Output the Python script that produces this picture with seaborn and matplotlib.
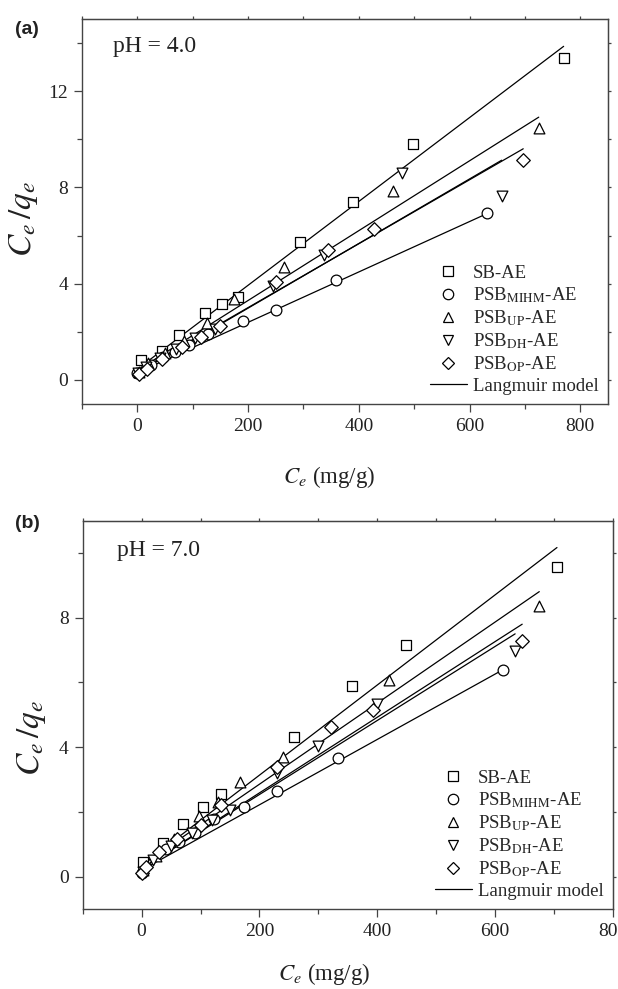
import numpy as np
import pandas as pd
import matplotlib
matplotlib.use('Agg')
import matplotlib.pyplot as plt
import seaborn as sns
from matplotlib.lines import Line2D
from matplotlib.ticker import MultipleLocator

sns.set_style('ticks')
plt.rcParams['font.family'] = ['Liberation Serif', 'DejaVu Serif']
plt.rcParams['mathtext.fontset'] = 'stix'

series = ['SB', 'MIHM', 'UP', 'DH', 'OP']
labels = ['SB-AE', r'PSB$_{\mathrm{MIHM}}$-AE', r'PSB$_{\mathrm{UP}}$-AE',
          r'PSB$_{\mathrm{DH}}$-AE', r'PSB$_{\mathrm{OP}}$-AE']
markers = {'SB': 's', 'MIHM': 'o', 'UP': '^', 'DH': 'v', 'OP': 'D'}

# pH = 4.0  (Ce in mg/g, Ce/qe)
a_sb_x = [7, 45, 76, 122, 152, 182, 293, 390, 497, 770]
a_sb_y = [0.82, 1.20, 1.85, 2.77, 3.15, 3.43, 5.73, 7.40, 9.82, 13.39]
a_mihm_x = [0, 25, 46, 68, 93, 128, 190, 251, 358, 632]
a_mihm_y = [0.30, 0.62, 0.94, 1.17, 1.45, 1.90, 2.46, 2.90, 4.15, 6.92]
a_up_x = [3, 20, 50, 85, 125, 175, 265, 462, 725]
a_up_y = [0.35, 0.70, 1.10, 1.60, 2.35, 3.35, 4.68, 7.85, 10.48]
a_dh_x = [2, 15, 40, 70, 105, 140, 245, 337, 478, 658]
a_dh_y = [0.30, 0.55, 0.90, 1.30, 1.75, 2.10, 3.90, 5.19, 8.58, 7.63]
a_op_x = [3, 18, 45, 80, 115, 150, 250, 344, 427, 697]
a_op_y = [0.25, 0.45, 0.85, 1.35, 1.80, 2.25, 4.05, 5.42, 6.29, 9.13]
# Langmuir linear fits: slope (1/qm), intercept (1/(KL qm))
a_slope = [0.01742, 0.01047, 0.01451, 0.01342, 0.01328]
a_icpt = [0.45, 0.30, 0.40, 0.30, 0.35]

# pH = 7.0
b_sb_x = [2, 37, 70, 104, 135, 259, 357, 449, 705]
b_sb_y = [0.45, 1.05, 1.64, 2.16, 2.54, 4.32, 5.88, 7.15, 9.57]
b_mihm_x = [0, 41, 64, 90, 123, 174, 229, 334, 614]
b_mihm_y = [0.10, 0.84, 1.07, 1.35, 1.77, 2.15, 2.66, 3.68, 6.40]
b_up_x = [3, 25, 55, 98, 130, 167, 240, 420, 675]
b_up_y = [0.20, 0.65, 1.15, 1.87, 2.30, 2.92, 3.70, 6.09, 8.35]
b_dh_x = [2, 20, 50, 85, 120, 150, 230, 300, 399, 634]
b_dh_y = [0.15, 0.50, 0.95, 1.35, 1.75, 2.05, 3.20, 4.05, 5.35, 6.96]
b_op_x = [0, 8, 30, 60, 100, 135, 230, 322, 392, 646]
b_op_y = [0.10, 0.30, 0.75, 1.15, 1.60, 2.20, 3.40, 4.62, 5.14, 7.27]
b_slope = [0.01393, 0.0101, 0.01253, 0.01144, 0.01169]
b_icpt = [0.35, 0.20, 0.35, 0.25, 0.25]


def make_frames(xs, ys, slopes, icpts):
    pts = pd.concat([pd.DataFrame({'Ce': x, 'Ceqe': y, 'series': s})
                     for s, x, y in zip(series, xs, ys)], ignore_index=True)
    rows = []
    for s, x, m, b in zip(series, xs, slopes, icpts):
        xx = np.array([min(x), max(x)], dtype=float)
        rows.append(pd.DataFrame({'Ce': xx, 'Ceqe': m * xx + b, 'series': s}))
    return pts, pd.concat(rows, ignore_index=True)


def draw(ax, pts, fit, ylim, xlim, ph, ph_pos, ylab_pos, xlab_pos):
    sns.lineplot(data=fit, x='Ce', y='Ceqe', units='series', estimator=None,
                 color='black', lw=0.9, ax=ax, legend=False)
    for s in series:
        d = pts[pts.series == s]
        sz = 48 if s in ('SB', 'OP') else 60
        sns.scatterplot(data=d, x='Ce', y='Ceqe', marker=markers[s], s=sz,
                        color='white', edgecolor='black', linewidth=0.9,
                        ax=ax, legend=False, zorder=3)
    ax.set_xlim(*xlim)
    ax.set_ylim(*ylim)
    ax.xaxis.set_major_locator(MultipleLocator(200))
    ax.xaxis.set_minor_locator(MultipleLocator(100))
    ax.yaxis.set_major_locator(MultipleLocator(4))
    ax.yaxis.set_minor_locator(MultipleLocator(2))
    ax.tick_params(which='major', direction='out', length=6, width=0.9,
                   labelsize=14, pad=4, color='#444', labelcolor='#222')
    ax.tick_params(which='minor', direction='out', length=3.5, width=0.9, color='#444')
    for sp in ax.spines.values():
        sp.set_color('#444')
        sp.set_linewidth(1.0)
    # short mirrored ticks on top / right
    top = ax.secondary_xaxis('top')
    top.xaxis.set_major_locator(MultipleLocator(200))
    top.xaxis.set_minor_locator(MultipleLocator(100))
    top.tick_params(which='both', direction='out', length=2, width=0.9,
                    labeltop=False, color='#444')
    top.spines['top'].set_color('#444')
    right = ax.secondary_yaxis('right')
    right.yaxis.set_major_locator(MultipleLocator(4))
    right.yaxis.set_minor_locator(MultipleLocator(2))
    right.tick_params(which='both', direction='out', length=2, width=0.9,
                      labelright=False, color='#444')
    right.spines['right'].set_color('#444')

    ax.set_ylabel(r'$C_e\,/q_e$', fontsize=24, color='#222')
    ax.yaxis.set_label_coords(*ylab_pos)
    ax.set_xlabel(r'$C_e$ (mg/g)', fontsize=16.5, color='#222', va='top')
    ax.xaxis.set_label_coords(*xlab_pos)
    ax.text(ph_pos[0], ph_pos[1], ph, transform=ax.transAxes, fontsize=17,
            ha='left', va='baseline', color='#222')

    handles = [Line2D([], [], marker=markers[s], ls='none', mfc='white', mec='black',
                      ms=6.5 if s in ('SB', 'OP') else 7.5, mew=0.9) for s in series]
    handles.append(Line2D([], [], color='black', lw=0.9))
    ax.legend(handles, labels + ['Langmuir model'], loc='lower right', frameon=False,
              fontsize=13.5, handlelength=2.0, handletextpad=0.3, labelspacing=0.18,
              borderaxespad=0.3, borderpad=0.2)


fig = plt.figure(figsize=(6.18, 9.89), dpi=100)
ax1 = fig.add_axes([0.1327, 0.5915, 0.851, 0.3893])
ax2 = fig.add_axes([0.1338, 0.0809, 0.858, 0.3926])

pa, fa = make_frames([a_sb_x, a_mihm_x, a_up_x, a_dh_x, a_op_x],
                     [a_sb_y, a_mihm_y, a_up_y, a_dh_y, a_op_y], a_slope, a_icpt)
pb, fb = make_frames([b_sb_x, b_mihm_x, b_up_x, b_dh_x, b_op_x],
                     [b_sb_y, b_mihm_y, b_up_y, b_dh_y, b_op_y], b_slope, b_icpt)

draw(ax1, pa, fa, (-1, 15), (-100, 850), 'pH = 4.0', (0.059, 0.915),
     (-0.08, 0.48), (0.47, -0.155))
draw(ax2, pb, fb, (-1, 11), (-100, 800), 'pH = 7.0', (0.065, 0.909),
     (-0.065, 0.44), (0.455, -0.135))

fig.text(27 / 618, 1 - 29 / 989, '(a)', ha='center', va='center', fontsize=14,
         fontweight='bold', family='Liberation Sans', color='#222')
fig.text(27 / 618, 1 - 524 / 989, '(b)', ha='center', va='center', fontsize=14,
         fontweight='bold', family='Liberation Sans', color='#222')

fig.savefig('out.png', dpi=100)
